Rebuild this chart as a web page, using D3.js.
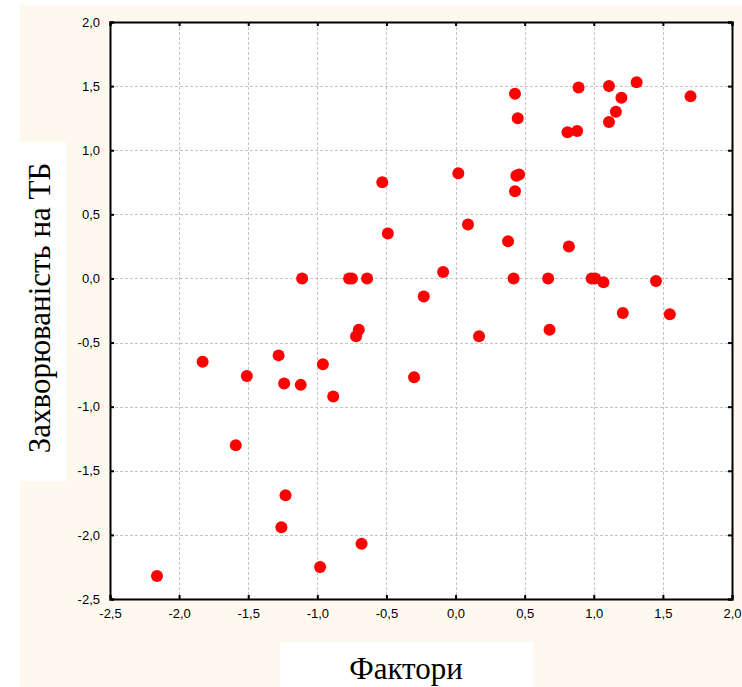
<!DOCTYPE html>
<html>
<head>
<meta charset="utf-8">
<script src="https://cdn.jsdelivr.net/npm/d3@7"></script>
<style>
  html, body { margin: 0; padding: 0; background: #ffffff; }
  svg { display: block; }
</style>
</head>
<body>
<svg id="chart" width="742" height="687"></svg>
<script>
// Factor scores (x) against TB incidence (y)
const factorValues = [
  -2.16, -1.83, -1.59, -1.51, -1.28, -1.26, -1.24, -1.23, -1.12, -1.11,
  -0.98, -0.96, -0.885, -0.77, -0.75, -0.72, -0.70, -0.68, -0.64, -0.53,
  -0.49, -0.30, -0.23, -0.09, 0.02, 0.09, 0.17, 0.38, 0.42, 0.43,
  0.45, 0.43, 0.44, 0.46, 0.67, 0.68, 0.81, 0.88, 0.82, 0.89,
  0.985, 1.01, 1.07, 1.11, 1.11, 1.16, 1.20, 1.31, 1.21, 1.45,
  1.55, 1.70
];
const incidenceValues = [
  -2.32, -0.65, -1.30, -0.76, -0.60, -1.94, -0.82, -1.69, -0.83, 0.00,
  -2.25, -0.67, -0.92, 0.00, 0.00, -0.45, -0.40, -2.07, 0.00, 0.75,
  0.35, -0.77, -0.14, 0.05, 0.82, 0.42, -0.45, 0.29, 0.00, 1.44,
  1.25, 0.68, 0.80, 0.81, 0.00, -0.40, 1.14, 1.15, 0.25, 1.49,
  0.00, 0.00, -0.03, 1.50, 1.22, 1.30, 1.41, 1.53, -0.27, -0.02,
  -0.28, 1.42
];
const xTicks = [-2.5, -2.0, -1.5, -1.0, -0.5, 0.0, 0.5, 1.0, 1.5, 2.0];
const yTicks = [-2.5, -2.0, -1.5, -1.0, -0.5, 0.0, 0.5, 1.0, 1.5, 2.0];
const xTitle = "Фактори";
const yTitle = "Захворюваність на ТБ";

const points = factorValues.map((x, i) => ({ x, y: incidenceValues[i] }));

const svg = d3.select("#chart");
const plot = { left: 110, top: 22, right: 732, bottom: 599 };

const x = d3.scaleLinear().domain([-2.5, 2.0]).range([plot.left, plot.right]);
const y = d3.scaleLinear().domain([-2.5, 2.0]).range([plot.bottom, plot.top]);

const fmt = v => d3.format(".1f")(v).replace(".", ",").replace("−", "-");

// Page backdrop
svg.append("rect").attr("x", 20).attr("y", 5).attr("width", 722).attr("height", 682)
  .attr("fill", "#fdf9ee");
// Title panels
svg.append("rect").attr("x", 15).attr("y", 142).attr("width", 51).attr("height", 339)
  .attr("fill", "#ffffff");
svg.append("rect").attr("x", 280).attr("y", 642).attr("width", 253).attr("height", 45)
  .attr("fill", "#ffffff");

// Plot area
svg.append("rect")
  .attr("x", plot.left).attr("y", plot.top)
  .attr("width", plot.right - plot.left).attr("height", plot.bottom - plot.top)
  .attr("fill", "#ffffff");

// Grid
const grid = svg.append("g").attr("stroke", "#c4c4c4").attr("stroke-width", 1)
  .attr("stroke-dasharray", "3,2");
grid.selectAll("line.gx").data(xTicks.slice(1, -1)).join("line")
  .attr("x1", d => Math.round(x(d)) + 0.5).attr("x2", d => Math.round(x(d)) + 0.5)
  .attr("y1", plot.top).attr("y2", plot.bottom);
grid.selectAll("line.gy").data(yTicks.slice(1, -1)).join("line")
  .attr("y1", d => Math.round(y(d)) + 0.5).attr("y2", d => Math.round(y(d)) + 0.5)
  .attr("x1", plot.left).attr("x2", plot.right);

// Axes with inward ticks on all four sides
const tickFont = "Liberation Sans, Arial, sans-serif";
const bottomAxis = d3.axisBottom(x).tickValues(xTicks).tickSize(-4).tickPadding(10).tickFormat(fmt);
const topAxis = d3.axisTop(x).tickValues(xTicks).tickSize(-4).tickFormat("");
const leftAxis = d3.axisLeft(y).tickValues(yTicks).tickSize(-4).tickPadding(10).tickFormat(fmt);
const rightAxis = d3.axisRight(y).tickValues(yTicks).tickSize(-4).tickFormat("");

function styleAxis(g) {
  g.select(".domain").attr("stroke", "#000").attr("stroke-width", 2);
  g.selectAll(".tick line").attr("stroke", "#000").attr("stroke-width", 2);
  g.selectAll(".tick text").attr("fill", "#000")
    .style("font-family", tickFont).style("font-size", "13px");
}

svg.append("g").attr("transform", `translate(0,${plot.bottom})`).call(bottomAxis).call(styleAxis);
svg.append("g").attr("transform", `translate(0,${plot.top})`).call(topAxis).call(styleAxis);
svg.append("g").attr("transform", `translate(${plot.left},0)`).call(leftAxis).call(styleAxis);
svg.append("g").attr("transform", `translate(${plot.right},0)`).call(rightAxis).call(styleAxis);

// Points
svg.append("g").selectAll("circle").data(points).join("circle")
  .attr("cx", d => x(d.x)).attr("cy", d => y(d.y)).attr("r", 6)
  .attr("fill", "#ff0000");

// Axis titles
const titleFont = "Liberation Serif, Times New Roman, serif";
svg.append("text")
  .attr("x", 406).attr("y", 679)
  .attr("text-anchor", "middle")
  .style("font-family", titleFont)
  .style("font-size", "31px").attr("fill", "#000")
  .text(xTitle);
svg.append("text")
  .attr("transform", "translate(50,308) rotate(-90)")
  .attr("text-anchor", "middle")
  .style("font-family", titleFont)
  .style("font-size", "31px").attr("fill", "#000")
  .text(yTitle);
</script>
</body>
</html>
